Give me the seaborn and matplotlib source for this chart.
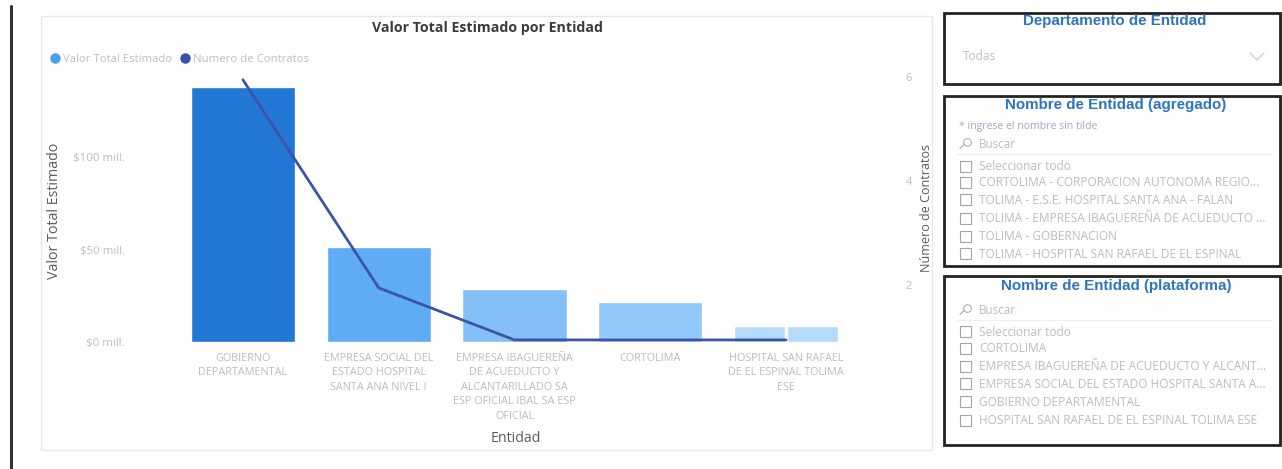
import matplotlib
matplotlib.use("Agg")
import matplotlib.pyplot as plt
from matplotlib.lines import Line2D
from matplotlib.patches import Rectangle
from matplotlib.transforms import ScaledTranslation
import pandas as pd
import seaborn as sns

categories = ["GOBIERNO\nDEPARTAMENTAL",
              "EMPRESA SOCIAL DEL\nESTADO HOSPITAL\nSANTA ANA NIVEL I",
              "EMPRESA IBAGUEREÑA\nDE ACUEDUCTO Y\nALCANTARILLADO SA\nESP OFICIAL IBAL SA ESP\nOFICIAL",
              "CORTOLIMA",
              "HOSPITAL SAN RAFAEL\nDE EL ESPINAL TOLIMA\nESE"]
valor_mill = [138, 51.5, 28.5, 21.5, 8.5]
contratos = [6, 2, 1, 1, 1]
bar_colors = ["#2177d3", "#5fabf4", "#85bff8", "#92c9fa", "#b4dbfb"]
left_ticks = [0, 50, 100]
left_labels = ["$0 mill.", "$50 mill.", "$100 mill."]
right_ticks = [2, 4, 6]
slicer_agregado = ["Seleccionar todo", "CORTOLIMA - CORPORACION AUTONOMA REGIO...",
                   "TOLIMA - E.S.E. HOSPITAL SANTA ANA - FALAN",
                   "TOLIMA - EMPRESA IBAGUEREÑA DE ACUEDUCTO ...",
                   "TOLIMA - GOBERNACION", "TOLIMA - HOSPITAL SAN RAFAEL DE EL ESPINAL"]
slicer_plataforma = ["Seleccionar todo", "CORTOLIMA",
                     "EMPRESA IBAGUEREÑA DE ACUEDUCTO Y ALCANT...",
                     "EMPRESA SOCIAL DEL ESTADO HOSPITAL SANTA A...",
                     "GOBIERNO DEPARTAMENTAL", "HOSPITAL SAN RAFAEL DE EL ESPINAL TOLIMA ESE"]

W, H = 1282, 469
sns.set_theme(style="white")
plt.rcParams["font.family"] = ["Open Sans", "DejaVu Sans"]
fig = plt.figure(figsize=(W / 100, H / 100), dpi=100, facecolor="#fffffd")

GRAY = "#bcbcc0"
DARK = "#5a5a5e"
BLUE = "#2f74bd"

# page overlay in pixel coordinates
bg = fig.add_axes([0, 0, 1, 1], zorder=0)
bg.set_xlim(0, W); bg.set_ylim(H, 0); bg.axis("off")
bg.plot([10.5, 10.5], [6, H], color="#333333", lw=2.2)
bg.add_patch(Rectangle((41, 16), 891, 434, fc="white", ec="#e8e8e8", lw=1))
for y0, y1 in [(13, 84), (96, 266), (276, 445)]:
    bg.add_patch(Rectangle((944, y0), 336, y1 - y0, fc="white", ec="#222222", lw=2))

def slicer_title(txt, cx, y):
    bg.text(cx, y, txt, ha="center", va="center", color=BLUE, fontsize=10.9,
            fontweight="bold", family="Liberation Sans")

def small(txt, x, y, size=8.6, color=GRAY, **kw):
    bg.text(x, y, txt, ha="left", va="center", fontsize=size, color=color, **kw)

def search(y):
    bg.plot([966.5], [y - 1.5], marker="o", ms=5.5, mfc="none", mec="#b0b0b0", mew=0.8)
    bg.plot([960, 964], [y + 4.5, y + 0.5], color="#b0b0b0", lw=0.9)
    small("Buscar", 979, y, 8.4)
    bg.plot([957, 1272], [y + 10, y + 10], color="#eeeeee", lw=0.8)

def items(labels, ys):
    for t, y in zip(labels, ys):
        bg.add_patch(Rectangle((960, y - 5.5), 11, 11, fc="white", ec="#a4a4a4", lw=0.8))
        small(t, 979, y)

slicer_title("Departamento de Entidad", 1115, 21)
small("Todas", 963, 56)
bg.plot([1250, 1257, 1264], [53, 60, 53], color="#cccccc", lw=0.9)

slicer_title("Nombre de Entidad (agregado)", 1116, 105)
small("* ingrese el nombre sin tilde", 959, 127, 7.6, color="#a4a4c8")
search(144)
items(slicer_agregado, [167, 183, 200, 219, 237, 254])

slicer_title("Nombre de Entidad (plataforma)", 1116, 286)
search(310)
items(slicer_plataforma, [332, 349, 367, 384, 402, 421])

# chart: axes spans pixel x 175..854, y 72..342
ax = fig.add_axes([175 / W, 1 - 342 / H, 679 / W, 270 / H], zorder=2)
ax.patch.set_alpha(0)
df = pd.DataFrame({"Entidad": categories, "Valor": valor_mill, "Contratos": contratos})
sns.barplot(data=df, x="Entidad", y="Valor", hue="Entidad", palette=bar_colors,
            legend=False, width=0.766, saturation=1, ax=ax, zorder=2)
ax.vlines(len(categories) - 1, 0, valor_mill[-1], color="white", lw=2.5, zorder=3)
ax.set_xlim(-0.5, 4.5)
ax.set_ylim(0, 146)
ax.set_yticks(left_ticks, left_labels)
ax.set_ylabel("")
ax.set_xlabel("")
ax.tick_params(axis="y", labelsize=8.2, labelcolor=GRAY, length=0, pad=36)
ax.tick_params(axis="x", labelsize=7.8, labelcolor=GRAY, length=0, pad=8)
for lab in ax.get_xticklabels():
    lab.set_linespacing(1.42)
sns.despine(ax=ax, left=True, bottom=True)

ax2 = ax.twinx()
ax2.patch.set_alpha(0)
sns.lineplot(data=df, x="Entidad", y="Contratos", color="#3a55a8", lw=2, ax=ax2,
             errorbar=None, sort=False, zorder=5)
ax2.set_ylim(0.96, 6.15)
ax2.set_yticks(right_ticks)
ax2.set_ylabel("")
ax2.set_xlim(ax.get_xlim())
ax2.tick_params(axis="y", labelsize=8, labelcolor=GRAY, length=0, pad=37)
shift = ScaledTranslation(0, 2.5 / 100, fig.dpi_scale_trans)
for lab in ax2.get_yticklabels():
    lab.set_transform(lab.get_transform() + shift)
sns.despine(ax=ax2, left=True, bottom=True, right=True)
ax.set_zorder(2); ax2.set_zorder(3)

bg.text(488, 28, "Valor Total Estimado por Entidad", ha="center", va="center",
        fontsize=10.2, fontweight="bold", color="#3a3a3a")
bg.text(55, 211, "Valor Total Estimado", rotation=90, ha="center", va="center",
        fontsize=10.3, color=DARK)
bg.text(926, 208, "Número de Contratos", rotation=90, ha="center", va="center",
        fontsize=9, color=DARK)
bg.text(516, 438, "Entidad", ha="center", va="center", fontsize=10.3, color=DARK)

handles = [Line2D([], [], ls="", marker="o", ms=6.5, color="#4a9df0", label="Valor Total Estimado"),
           Line2D([], [], ls="", marker="o", ms=6.5, color="#3a4fa8", label="Numero de Contratos")]
bg.legend(handles=handles, ncol=2, frameon=False, fontsize=8.2, labelcolor=GRAY,
          loc="center left", bbox_to_anchor=(44 / W, 1 - 59 / H), bbox_transform=fig.transFigure,
          handletextpad=-0.3, columnspacing=0.1, borderpad=0, borderaxespad=0)

fig.savefig("out.png", dpi=100, facecolor=fig.get_facecolor())
